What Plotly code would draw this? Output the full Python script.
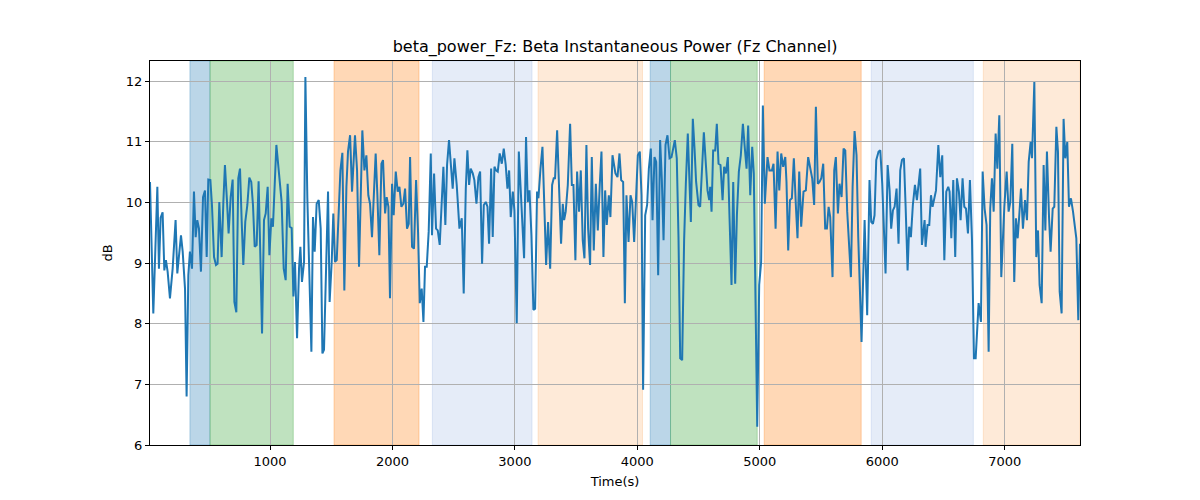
# beta power over time for the Fz channel, with shaded segments behind the trace

import plotly.graph_objects as go

# time (s) and beta power (dB)
time_s = [
    20, 47, 80, 93, 107, 123, 137, 150, 164, 183, 205, 229, 243, 273, 287, 306, 319, 333, 346, 363,
    379, 393, 406, 420, 436, 453, 469, 483, 496, 513, 526, 543, 559, 572, 586, 605, 619, 632, 649, 662,
    679, 695, 709, 725, 741, 755, 769, 782, 798, 815, 831, 847, 861, 875, 891, 907, 921, 935, 951, 965,
    981, 995, 1011, 1024, 1052, 1068, 1095, 1112, 1128, 1144, 1161, 1177, 1191, 1204, 1221, 1237, 1248, 1261, 1278,
    1289, 1305, 1338, 1351, 1365, 1381, 1398, 1414, 1428, 1441, 1458, 1474, 1487, 1504, 1517, 1531, 1545, 1561,
    1575, 1591, 1607, 1624, 1637, 1654, 1670, 1694, 1711, 1727, 1754, 1771, 1787, 1803, 1817, 1833, 1863, 1877,
    1893, 1910, 1923, 1940, 1953, 1967, 1980, 1997, 2010, 2027, 2043, 2057, 2073, 2089, 2103, 2119, 2133, 2144,
    2160, 2176, 2193, 2209, 2223, 2239, 2253, 2266, 2280, 2296, 2313, 2323, 2340, 2356, 2370, 2386, 2402, 2416,
    2432, 2446, 2462, 2476, 2492, 2506, 2525, 2547,
    2566, 2582, 2599, 2612, 2626, 2639, 2656, 2669, 2686, 2702, 2716, 2732, 2746, 2762, 2776, 2789, 2797, 2806,
    2819, 2833, 2846, 2860, 2876, 2893, 2909, 2925, 2939, 2953, 2966, 2983, 2996, 3015, 3032, 3048, 3075, 3091,
    3105, 3119, 3135, 3151, 3165, 3181, 3192, 3209, 3225, 3241, 3255, 3271, 3288, 3304, 3317, 3328, 3345, 3361,
    3377, 3391, 3402, 3415, 3432, 3451, 3465, 3478, 3494, 3508, 3524, 3538, 3554, 3568, 3584, 3598, 3614, 3628,
    3644, 3661, 3677, 3693, 3707, 3723, 3737, 3750, 3767, 3780, 3797,
    3821, 3838, 3854, 3868, 3884, 3898, 3911, 3928, 3944, 3958, 3974, 3988, 4004, 4020, 4034, 4047, 4064, 4080,
    4094, 4110, 4124, 4140, 4154, 4170, 4186, 4200, 4214, 4230, 4246, 4263, 4279, 4306, 4322, 4336, 4350, 4366,
    4382, 4396, 4412, 4437, 4453, 4467, 4480, 4499, 4513, 4543, 4559, 4573, 4587, 4595, 4606, 4619, 4636, 4649,
    4663, 4679, 4696, 4709, 4723, 4739, 4753, 4769, 4783, 4799, 4813, 4829, 4845, 4862, 4878, 4892, 4905, 4922,
    4938, 4951, 4979, 4995, 5011, 5025, 5041, 5063, 5079,
    5099, 5112, 5129, 5145, 5159, 5175, 5191, 5208, 5218, 5232, 5246, 5262, 5278, 5295, 5308, 5322, 5338, 5357,
    5376, 5395, 5412, 5428, 5444, 5458, 5474, 5488, 5502, 5518, 5534, 5548, 5562, 5575, 5594, 5608, 5621, 5638,
    5651, 5668, 5684, 5698, 5714, 5728, 5744, 5758, 5774, 5790, 5804, 5831, 5856, 5877, 5896, 5910, 5924, 5937,
    5951, 5970, 5984, 6000, 6027, 6044, 6060, 6073, 6087, 6101, 6117, 6133, 6147, 6161, 6177, 6191, 6207, 6220,
    6234, 6250, 6267, 6283, 6310, 6324, 6346,
    6354, 6370, 6384, 6398, 6411, 6439, 6458, 6474, 6490, 6507, 6523, 6539, 6550, 6564, 6580, 6596, 6610, 6626,
    6640, 6656, 6670, 6684, 6700, 6716, 6733, 6749, 6763, 6787, 6806, 6820, 6836, 6852, 6869, 6882, 6896, 6910,
    6926, 6940, 6956, 6972, 6997, 7016, 7032, 7046, 7062, 7078, 7092, 7106, 7119, 7133, 7149, 7166, 7182, 7196,
    7212, 7223, 7242, 7258, 7272, 7285, 7302, 7318, 7332, 7345, 7362, 7375, 7392, 7405, 7422, 7435, 7449, 7465,
    7481, 7495, 7511, 7525, 7541, 7558, 7585, 7601, 7615,
]

power_db = [
    10.34, 8.17, 10.26, 8.91, 9.75, 9.84, 8.88, 9.05, 8.86, 8.42, 8.91, 9.71, 8.83, 9.46, 9.19, 8.58, 6.80, 8.80, 9.19, 8.91,
    10.18, 9.43, 9.71, 9.57, 8.86, 10.09, 10.20, 9.10, 10.38, 10.37, 9.96, 9.10, 8.97, 8.99, 10.01, 9.10, 10.01, 10.62, 10.01, 9.49,
    10.09, 10.38, 8.36, 8.19, 10.40, 10.56, 9.68, 8.97, 9.68, 9.96, 10.41, 10.34, 9.96, 9.27, 9.30, 10.35, 9.13, 7.84, 9.71, 9.82,
    10.26, 9.13, 9.74, 9.60, 10.95, 10.62, 10.01, 8.91, 8.72, 10.31, 9.60, 9.58, 8.45, 9.02, 7.76, 8.91, 9.27, 8.69, 9.02,
    12.07, 10.07, 7.54, 9.76, 9.19, 9.98, 10.04, 9.57, 7.51, 7.57, 8.91, 10.18, 8.36, 9.02, 9.82, 9.02, 9.05, 9.74,
    10.53, 10.82, 8.55, 10.26, 10.84, 11.11, 10.18, 11.11, 10.53, 8.94, 11.19, 10.53, 10.78, 10.12, 9.98, 9.43, 10.81, 10.12,
    9.13, 10.64, 10.70, 9.82, 10.09, 9.93, 8.42, 10.31, 9.79, 10.51, 10.18, 10.26, 9.93, 9.98, 10.23, 9.57, 9.65, 10.75,
    9.27, 9.24, 10.37, 9.52, 8.34, 8.58, 8.03, 8.94, 8.94, 9.52, 10.81, 9.46, 10.48, 9.57, 9.54, 9.30, 10.15, 10.59,
    9.63, 10.62, 11.03, 10.67, 10.23, 10.73, 10.29, 9.57,
    9.74, 8.50, 10.23, 10.86, 10.29, 10.56, 10.48, 10.37, 9.98, 10.42, 10.51, 8.99, 9.96, 10.01, 9.93, 9.32, 9.96, 10.56,
    9.43, 10.59, 10.53, 10.51, 10.81, 10.64, 10.89, 10.62, 10.23, 10.53, 9.76, 10.18, 9.87, 8.01, 10.84, 10.23, 9.08, 11.08,
    10.01, 10.20, 9.46, 8.23, 8.25, 10.18, 10.07, 10.56, 10.92, 9.90, 8.97, 9.68, 8.91, 10.29, 10.40, 10.40, 11.19, 10.23,
    9.32, 9.98, 9.71, 9.85, 10.29, 11.30, 10.29, 10.29, 9.05, 10.51, 9.85, 10.53, 9.38, 9.08, 10.95, 9.57, 8.97, 10.75,
    9.21, 10.31, 9.54, 10.29, 10.84, 9.10, 10.20, 9.63, 10.12, 9.76, 10.78,
    10.48, 10.42, 10.81, 10.37, 10.34, 8.34, 10.12, 9.35, 10.12, 10.01, 9.35, 10.12, 10.78, 10.84, 10.12, 6.91, 9.79, 9.96,
    10.56, 10.89, 9.71, 10.75, 10.67, 8.80, 11.03, 10.37, 9.38, 10.95, 11.11, 10.73, 10.75, 11.03, 10.73, 9.43, 7.43, 7.40,
    9.38, 10.31, 11.14, 9.68, 11.38, 10.89, 10.34, 9.96, 9.93, 11.16, 10.53, 10.20, 10.04, 10.26, 9.85, 10.86, 10.86, 11.30,
    10.64, 10.62, 10.04, 10.59, 10.48, 10.75, 9.74, 8.64, 10.34, 8.66, 9.79, 10.51, 10.78, 11.30, 10.89, 10.56, 11.27, 10.12,
    10.92, 10.48, 6.30, 8.64, 9.02, 11.60, 9.98, 10.75, 10.53,
    10.53, 10.64, 9.57, 10.84, 10.20, 10.81, 10.59, 10.75, 10.34, 9.21, 10.04, 10.07, 10.73, 9.93, 9.41, 10.51, 9.60, 10.18,
    10.20, 10.75, 10.53, 10.40, 9.96, 11.58, 10.31, 10.34, 10.40, 10.64, 9.57, 9.57, 9.93, 9.76, 8.77, 10.53, 10.75, 9.82,
    10.31, 10.09, 10.89, 10.86, 9.85, 9.38, 8.77, 10.26, 11.18, 10.78, 9.43, 7.70, 9.71, 8.14, 10.37, 9.68, 9.65, 9.79,
    10.70, 10.84, 10.86, 10.31, 8.83, 10.62, 10.20, 9.57, 9.87, 9.93, 10.23, 9.32, 10.53, 10.70, 10.73, 9.93, 8.88, 9.60,
    9.43, 9.96, 10.29, 10.04, 10.56, 9.30, 9.71,
    9.27, 9.63, 9.63, 10.12, 9.93, 10.20, 10.95, 10.42, 10.78, 9.05, 10.18, 10.26, 10.18, 9.41, 10.37, 9.10, 10.40, 10.18,
    9.71, 10.40, 9.93, 9.90, 9.49, 10.37, 9.38, 7.43, 7.43, 8.34, 8.03, 10.51, 9.90, 9.63, 7.54, 9.90, 10.40, 9.85,
    11.14, 10.56, 11.44, 8.77, 9.93, 10.51, 9.85, 10.01, 10.97, 8.69, 9.74, 9.41, 9.79, 10.23, 9.57, 10.04, 9.71, 10.67,
    11.00, 10.73, 11.99, 9.10, 9.54, 8.64, 8.34, 10.62, 9.54, 10.84, 9.76, 9.19, 9.90, 9.93, 11.25, 10.84, 8.53, 8.17,
    11.38, 10.73, 11.00, 9.93, 10.07, 9.85, 9.41, 8.06, 9.32,
]

# shaded segments (start, end in seconds) and which kind each one is
span_start = [346, 510, 1523, 2326, 3189, 4105, 4271, 5036, 5910, 6825]
span_end = [510, 1190, 2217, 3140, 4042, 4271, 4979, 5828, 6744, 7615]
span_kind = ['a', 'b', 'c', 'd', 'e', 'a', 'b', 'c', 'd', 'e']

# colours for each kind of segment (fill, edge)
kind_style = {
    'a': ('rgba(31,119,180,0.3)', 'rgba(31,119,180,0.3)'),
    'b': ('rgba(44,160,44,0.3)', 'rgba(44,160,44,0.3)'),
    'c': ('rgba(255,127,14,0.3)', 'rgba(255,127,14,0.3)'),
    'd': ('rgba(100,140,215,0.17)', 'rgba(100,140,215,0.17)'),
    'e': ('rgba(250,150,60,0.2)', 'rgba(250,150,60,0.2)'),
}

fig = go.Figure()

# shaded segments, drawn under the grid like matplotlib's axvspan
for s, e, k in zip(span_start, span_end, span_kind):
    fill, edge = kind_style[k]
    fig.add_vrect(x0=s, x1=e, fillcolor=fill, line=dict(color=edge, width=1), layer='below')

# the power trace
fig.add_trace(go.Scatter(x=time_s, y=power_db, mode='lines',
                         line=dict(color='#1f77b4', width=2), showlegend=False))

axis_common = dict(
    showline=True, mirror=True, linecolor='black', linewidth=1,
    ticks='outside', ticklen=4, tickcolor='black',
    showgrid=True, gridcolor='#b0b0b0', gridwidth=1, zeroline=False,
    tickfont=dict(size=13, color='black'), automargin=False,
)

# the page body has an 8px margin, so the figure is 16px smaller than the window
fig.update_layout(
    width=1184, height=484,
    margin=dict(l=142, r=112, t=53, b=47),
    paper_bgcolor='white', plot_bgcolor='white',
    font=dict(family='DejaVu Sans', color='black'),
    title=dict(text='beta_power_Fz: Beta Instantaneous Power (Fz Channel)',
               x=(142 + 1072) / 2 / 1184, xanchor='center', y=1 - 38 / 484, yanchor='middle',
               font=dict(size=16, color='black')),
    xaxis=dict(range=[time_s[0], time_s[-1]], tickvals=[1000, 2000, 3000, 4000, 5000, 6000, 7000],
               title=dict(text='Time(s)', font=dict(size=13), standoff=9), **axis_common),
    yaxis=dict(range=[6, 12.335], tickvals=[6, 7, 8, 9, 10, 11, 12],
               title=dict(text='dB', font=dict(size=13), standoff=10), **axis_common),
)

fig.write_html("out.html")
